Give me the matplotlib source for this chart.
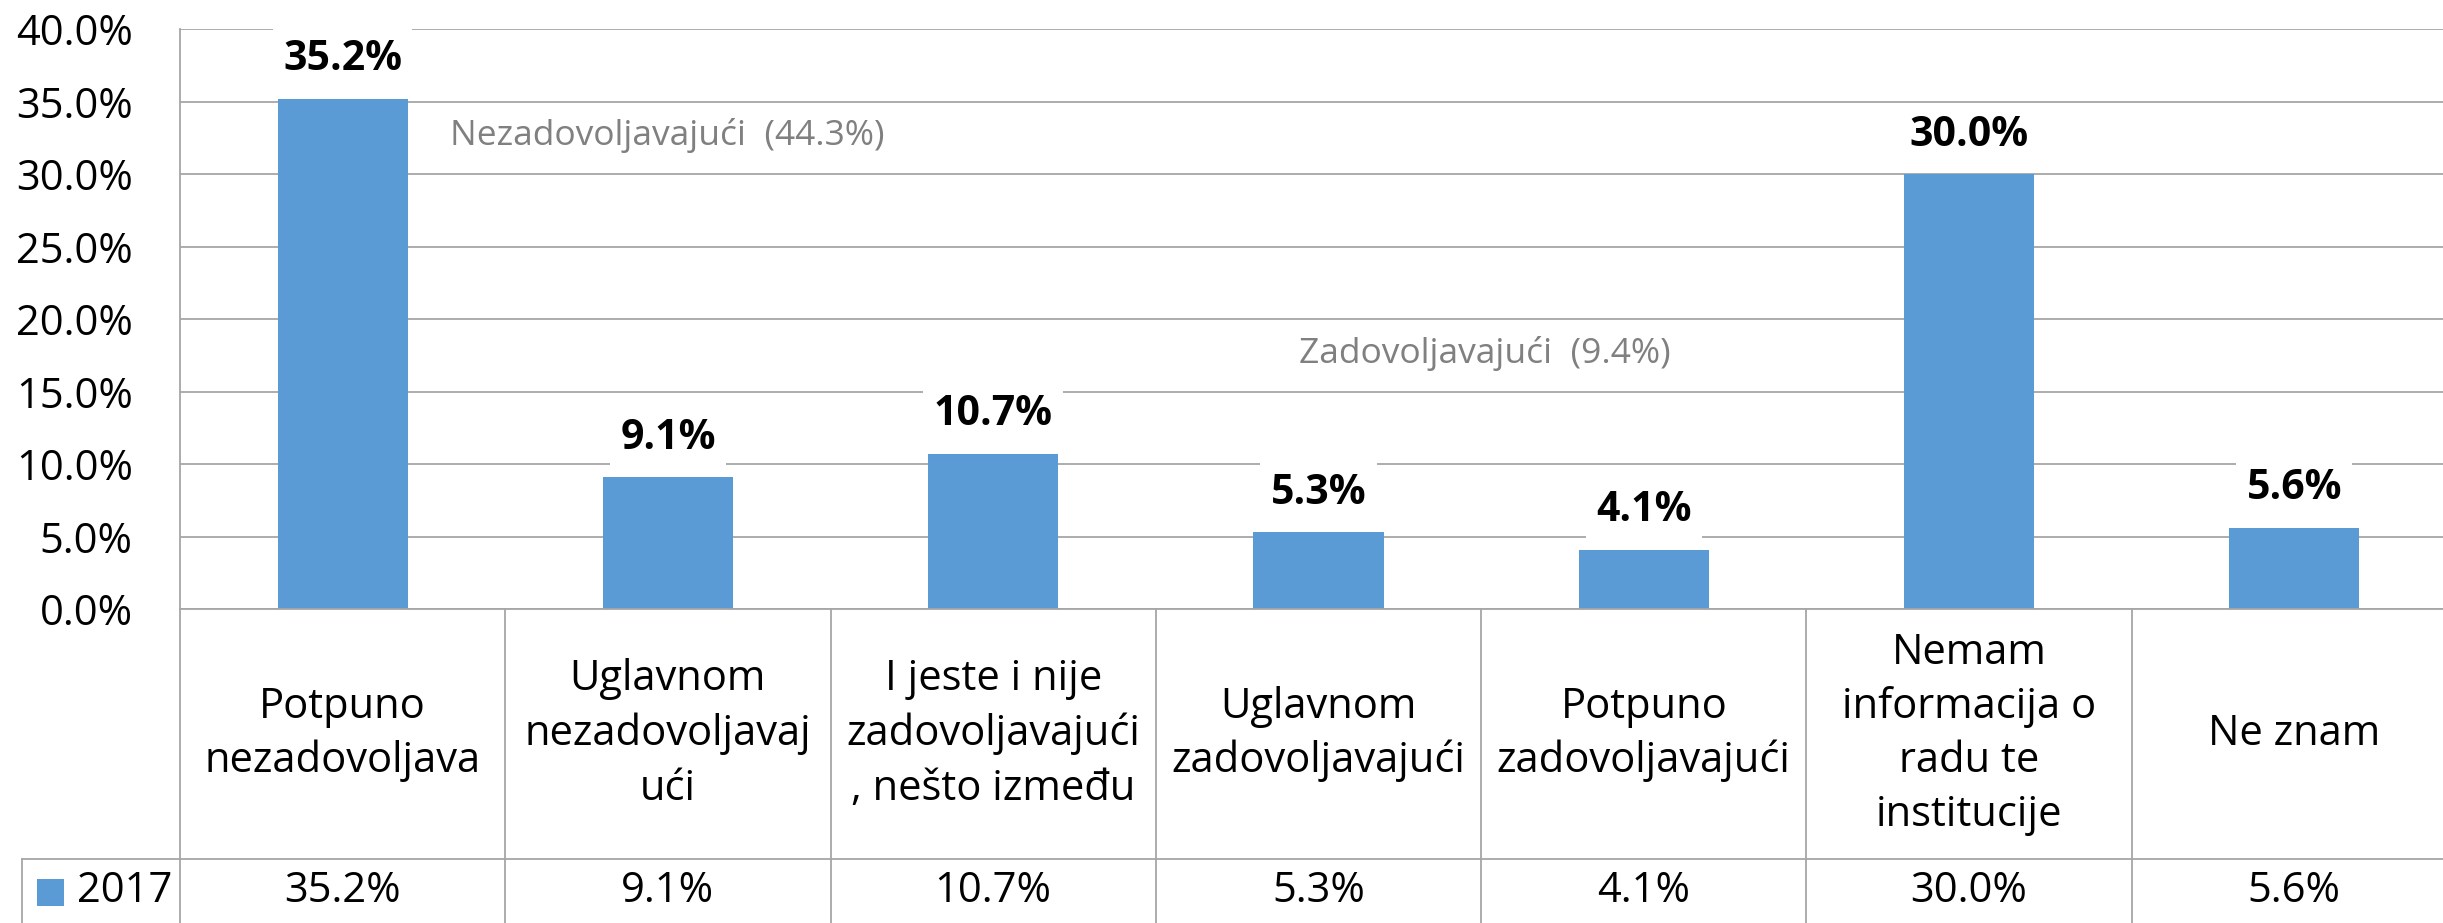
import matplotlib
matplotlib.use("Agg")
import matplotlib.pyplot as plt
from matplotlib.transforms import blended_transform_factory
from matplotlib.lines import Line2D
from matplotlib.patches import Rectangle

plt.rcParams['font.family'] = ['Open Sans', 'DejaVu Sans']

categories = ["Potpuno\nnezadovoljava", "Uglavnom\nnezadovoljavaj\nući",
              "I jeste i nije\nzadovoljavajući\n, nešto između", "Uglavnom\nzadovoljavajući",
              "Potpuno\nzadovoljavajući", "Nemam\ninformacija o\nradu te\ninstitucije", "Ne znam"]
values_2017 = [35.2, 9.1, 10.7, 5.3, 4.1, 30.0, 5.6]
series_name = "2017"
yticks = [0, 5, 10, 15, 20, 25, 30, 35, 40]
group_notes = ["Nezadovoljavajući  (44.3%)", "Zadovoljavajući  (9.4%)"]
note_pos = [(0.33, 32.7), (2.94, 17.6)]

W, H = 2443, 923
fig = plt.figure(figsize=(W / 100, H / 100), dpi=100)
fig.patch.set_facecolor('white')

px_left, px_right, px_top, px_bottom = 180, 2457, 29.3, 609
ax = fig.add_axes([px_left / W, (H - px_bottom) / H, (px_right - px_left) / W, (px_bottom - px_top) / H])

bar_color = '#5B9BD5'
grid_color = '#A6A6A6'
x = list(range(len(categories)))
ax.bar(x, values_2017, width=0.4, color=bar_color, zorder=2)

ax.set_xlim(-0.5, len(categories) - 0.5)
ax.set_ylim(0, 40)
ax.set_yticks(yticks)
ax.set_yticklabels([f"{v:.1f}%" for v in yticks], fontsize=30)
ax.tick_params(axis='y', length=0, pad=34)
ax.set_xticks([])
ax.yaxis.grid(True, color=grid_color, linewidth=1.3, zorder=0)
ax.set_axisbelow(True)
for s in ['top', 'right']:
    ax.spines[s].set_visible(False)
for s in ['left', 'bottom']:
    ax.spines[s].set_color(grid_color)
    ax.spines[s].set_linewidth(1.3)

# data labels
for xi, v in zip(x, values_2017):
    ax.annotate(f"{v:.1f}%", xy=(xi, v), xytext=(0, 39), textcoords='offset pixels',
                ha='center', va='center', fontsize=29.5, fontweight='bold', color='black',
                bbox=dict(boxstyle='square,pad=0.25', fc='white', ec='none'), zorder=5)

# group notes
for note, (nx, ny) in zip(group_notes, note_pos):
    ax.text(nx, ny, note, ha='left', va='center', fontsize=25.5, color='#808080', zorder=4)

# data table below
tr = blended_transform_factory(ax.transData, fig.transFigure)
def fy(py):
    return (H - py) / H

row_line = 859
x_leg = (22 - px_left) / ((px_right - px_left) / len(categories)) - 0.5
for k in range(len(categories) + 1):
    xb = -0.5 + k
    fig.add_artist(Line2D([xb, xb], [fy(px_bottom), fy(H + 5)], transform=tr,
                          color=grid_color, linewidth=1.3, clip_on=False))
fig.add_artist(Line2D([x_leg, len(categories) - 0.5], [fy(row_line), fy(row_line)], transform=tr,
                      color=grid_color, linewidth=1.3, clip_on=False))
fig.add_artist(Line2D([x_leg, x_leg], [fy(row_line), fy(H + 5)], transform=tr,
                      color=grid_color, linewidth=1.3, clip_on=False))

cat_mid = (px_bottom + row_line) / 2
val_mid = 891
for xi, cat, v in zip(x, categories, values_2017):
    fig.text(xi, fy(cat_mid), cat, transform=tr, ha='center', va='center',
             fontsize=30, linespacing=1.38, color='black')
    fig.text(xi, fy(val_mid), f"{v:.1f}%", transform=tr, ha='center', va='center',
             fontsize=30, color='black')

# legend key
fig.add_artist(Rectangle((37 / W, fy(906)), 27 / W, 27 / H, transform=fig.transFigure,
                         facecolor=bar_color, edgecolor='none'))
fig.text(77 / W, fy(val_mid), series_name, ha='left', va='center', fontsize=30, color='black')

fig.savefig("out.png", dpi=100, facecolor='white')
